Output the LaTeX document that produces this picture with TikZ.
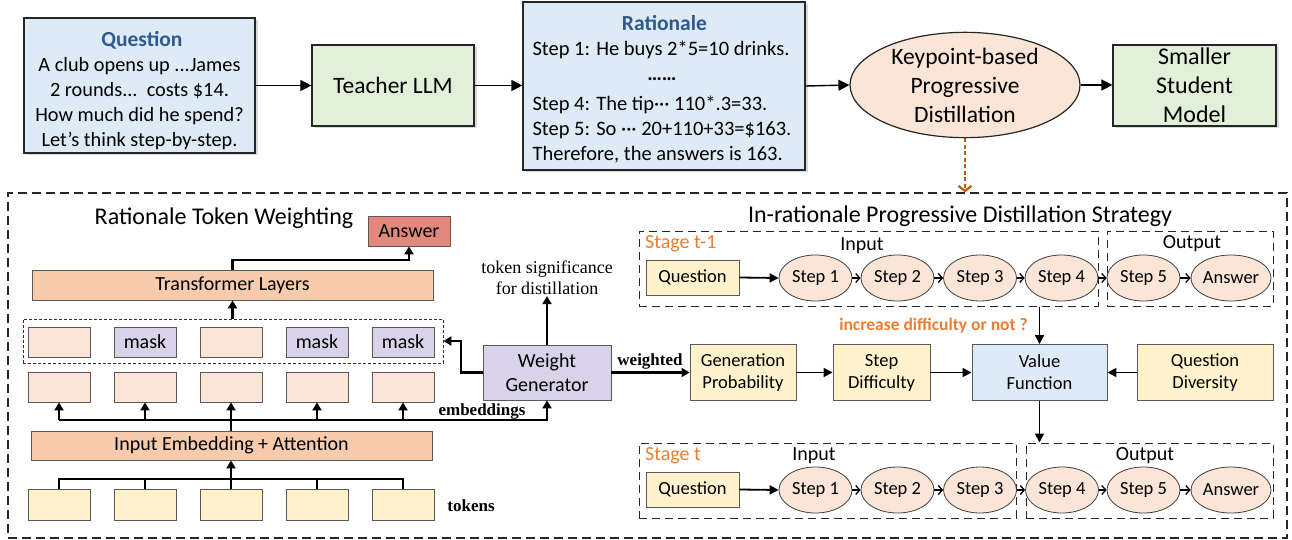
\documentclass[tikz,border=0pt]{standalone}
\usepackage{fontspec}
\setmainfont{Carlito}
\newfontfamily\tms{Liberation Serif}
\usetikzlibrary{arrows.meta,shapes.geometric,shadows,calc}
\definecolor{lblue}{HTML}{DEEBF7}
\definecolor{lgreen}{HTML}{E2F0D9}
\definecolor{peach}{HTML}{FBE5D6}
\definecolor{lorange}{HTML}{F8CBAD}
\definecolor{lyellow}{HTML}{FFF2CC}
\definecolor{lav}{HTML}{D9D3E9}
\definecolor{ansred}{HTML}{E0897C}
\definecolor{titleblue}{HTML}{2E5A8C}
\definecolor{orangetxt}{HTML}{ED7D31}
\definecolor{darkorange}{HTML}{C55A11}
\newcommand\myfs[2]{\fontsize{#1}{#2}\selectfont}
\begin{document}
\begin{tikzpicture}[x=1pt,y=-1pt,
  topbox/.style={draw=black!85, line width=1.2pt, inner sep=0pt, align=center,
    drop shadow={shadow xshift=2.5pt,shadow yshift=-2.5pt,opacity=0.3}},
  lbox/.style={draw=black!65, line width=0.8pt, inner sep=0pt, minimum height=30pt, font=\myfs{20}{24}},
  rbox/.style={draw=black!65, line width=0.9pt, inner sep=0pt, align=center, minimum height=56pt, font=\myfs{18.5}{22}},
  qbox/.style={draw=black!65, line width=0.8pt, inner sep=0pt, fill=lyellow, minimum width=93pt, minimum height=35pt, font=\myfs{18.5}{22}},
  stp/.style={ellipse, draw=black!75, line width=0.8pt, fill=peach, minimum width=73pt, minimum height=46pt, inner sep=0pt, font=\myfs{18.5}{22}},
  tarr/.style={line width=1.4pt, -{Triangle[length=11pt,width=11pt]}},
  larr/.style={line width=2.2pt, -{Triangle[length=8pt,width=9pt]}},
  rarr/.style={line width=1.8pt, -{Triangle[length=9pt,width=9pt]}},
  sarr/.style={line width=1.3pt, -{Straight Barb[length=4pt,width=9pt]}},
  ln/.style={line width=2.2pt},
  bigdash/.style={draw=black!85, line width=1.2pt, dash pattern=on 9pt off 5pt, inner sep=0pt},
  stagedash/.style={draw=black!85, line width=1pt, dash pattern=on 8pt off 5pt, inner sep=0pt},
  smalldash/.style={draw=black!80, line width=0.8pt, dash pattern=on 3pt off 2pt, inner sep=0pt},
  lbl/.style={font=\myfs{20}{24}, inner sep=0pt},
  serifl/.style={font=\tms\bfseries\myfs{17}{20}, inner sep=0pt}
]
\fill[white] (0,0) rectangle (1292,540);
\useasboundingbox (0,0) rectangle (1292,540);

% ---------- top row ----------
\node[topbox, fill=lblue, minimum width=231pt, minimum height=135pt] (q) at (139.5,85.5) {};
\node[align=center, inner sep=0pt, font=\myfs{20.3}{24.8}] (qt) at ($(q.center)+(0,5)$)
  {{\color{titleblue}\bfseries\myfs{21.5}{24.8} Question}\\A club opens up ...James\\2 rounds...\ \ costs \$14.\\How much did he spend?\\Let’s think step-by-step.};
\node[topbox, fill=lgreen, minimum width=162pt, minimum height=81pt, font=\myfs{23.5}{28}] (teacher) at (393,85.5) {Teacher LLM};
\node[topbox, fill=lblue, minimum width=282pt, minimum height=168pt] (rat) at (664,86) {};
\node[inner sep=0pt, font=\myfs{20.5}{25}] (ratt) at ($(rat.center)+(-2,5)$)
  {\begin{tabular}{@{}l@{}}
   \multicolumn{1}{@{}c@{}}{\color{titleblue}\bfseries\myfs{21.5}{25} Rationale}\\
   Step 1: He buys 2*5=10 drinks.\\
   \multicolumn{1}{@{}c@{}}{\bfseries ……}\\[5pt]
   Step 4: The tip··· 110*.3=33.\\
   Step 5: So ··· 20+110+33=\$163.\\
   Therefore, the answers is 163.
   \end{tabular}};
\node[ellipse, draw=black!85, line width=1.2pt, fill=peach, minimum width=230pt, minimum height=104pt, inner sep=0pt, align=center, font=\myfs{23.5}{29}] (ell) at (965,85)
  {Keypoint-based\\Progressive\\Distillation};
\node[topbox, fill=lgreen, minimum width=163pt, minimum height=81pt, font=\myfs{24}{29}] (student) at (1194.5,85.5) {Smaller\\Student\\Model};

\draw[tarr] (q.east) -- (teacher.west);
\draw[tarr] (teacher.east) -- (teacher.east -| rat.west);
\draw[tarr] (rat.east) -- (ell.west);
\draw[tarr] (ell.east) -- (ell.east -| student.west);

% ---------- big frame ----------
\node[bigdash, minimum width=1279pt, minimum height=345pt] (frame) at (647.5,365.5) {};
\draw[darkorange, line width=2.3pt, dash pattern=on 4pt off 2.5pt, -{Straight Barb[length=5pt,width=13pt]}] (ell.south) -- (ell.south |- frame.north);

% ---------- left part ----------
\node[font=\myfs{24}{28}, inner sep=0pt] (ltitle) at (224,218) {Rationale Token Weighting};
\node[lbox, fill=ansred, minimum width=82pt] (ans) at (409,231) {Answer};
\node[lbox, fill=lorange, minimum width=401pt] (trans) at (232.5,285) {Transformer Layers};
\node[smalldash, minimum width=420pt, minimum height=44pt] (mb) at (233,341) {};
\foreach \x/\n/\cl/\tx in {59/1/peach/, 145/2/lav/mask, 231/3/peach/, 317/4/lav/mask, 403/5/lav/mask}
  \node[lbox, fill=\cl, minimum width=62pt] (m\n) at (\x,342) {\tx};
\foreach \x/\n in {59/1, 145/2, 231/3, 317/4, 403/5}{
  \node[lbox, fill=peach, minimum width=62pt] (e\n) at (\x,387) {};
  \node[lbox, fill=lyellow, minimum width=62pt, minimum height=31pt] (t\n) at (\x,504.5) {};
}
\node[lbox, fill=lorange, minimum width=401pt, minimum height=29pt] (inp) at (231.5,445.5) {Input Embedding + Attention};
\node[lbox, fill=lav, minimum width=128pt, minimum height=55pt, align=center] (wg) at (547,372.5) {Weight\\Generator};
\node[font=\tms\myfs{18}{21}, align=center, inner sep=1pt] (sig) at (547,278) {token significance\\for distillation};
\node[serifl] (embl) at (482,411) {embeddings};
\node[serifl] (tokl) at (471,506) {tokens};
\node[serifl] (wl) at (650,361) {weighted};

\draw[larr] (trans.north) -- (trans.north |- 0,260) -| (ans.south);
\draw[larr] (trans.south |- mb.north) -- (trans.south);
\draw[larr] (e1.south |- 0,420) -| (wg.south);
\foreach \n in {1,2,4,5} \draw[larr] (e\n.south |- 0,420) -- (e\n.south);
\draw[larr] (e3.south |- inp.north) -- (e3.south);
\draw[ln] (t1.north) -- (t1.north |- 0,479) -- (t5.north |- 0,479) -- (t5.north);
\foreach \n in {2,4} \draw[ln] (t\n.north) -- (t\n.north |- 0,479);
\draw[larr] (t3.north) -- (t3.north |- inp.south);
\draw[larr] (wg.west) -- (461,372.5) |- (mb.east);
\draw[larr] (wg.north) -- (sig.south);

% ---------- middle row ----------
\node[rbox, fill=lyellow, minimum width=106pt] (gp) at (743,372.5) {Generation\\Probability};
\node[rbox, fill=lyellow, minimum width=97pt] (sd) at (881.5,372.5) {Step\\Difficulty};
\node[rbox, fill=lblue, minimum width=135pt] (vf) at (1039.5,372.5) {Value\\Function};
\node[rbox, fill=lyellow, minimum width=136pt] (qd) at (1205,372.5) {Question\\Diversity};
\draw[larr] (wg.east) -- (gp.west);
\draw[rarr] (gp.east) -- (sd.west);
\draw[rarr] (sd.east) -- (vf.west);
\draw[rarr] (qd.west) -- (vf.east);

% ---------- right part ----------
\node[font=\myfs{24}{28}, inner sep=0pt] (rtitle) at (960,216) {In-rationale Progressive Distillation Strategy};
\node[stagedash, minimum width=459pt, minimum height=75pt] (in1) at (868.5,268.5) {};
\node[stagedash, minimum width=166pt, minimum height=75pt] (out1) at (1190,268.5) {};
\node[stagedash, minimum width=377pt, minimum height=75pt] (in2) at (827.5,480.5) {};
\node[stagedash, minimum width=247pt, minimum height=75pt] (out2) at (1149.5,480.5) {};

\node[lbl, anchor=west, text=orangetxt] (st1) at (645,244) {Stage t-1};
\node[lbl] (inl1) at (862,246) {Input};
\node[lbl] (outl1) at (1192,244) {Output};
\node[qbox] (q1) at (692.5,277.5) {Question};
\foreach \x/\n/\tx in {815.5/1/Step 1, 897.5/2/Step 2, 980/3/Step 3, 1061.5/4/Step 4, 1143.5/5/Step 5}
  \node[stp] (a\n) at (\x,278) {\tx};
\node[stp, minimum width=80pt] (a6) at (1231,278) {Answer};
\draw[rarr] (q1.east) -- (a1.west);
\foreach \i/\j in {1/2,2/3,3/4,4/5,5/6} \draw[sarr] (a\i.east) -- (a\j.west);

\node[lbl, anchor=west, text=orangetxt] (st2) at (645,456) {Stage t};
\node[lbl] (inl2) at (814,456) {Input};
\node[lbl] (outl2) at (1145,456) {Output};
\node[qbox] (q2) at (692.5,489.5) {Question};
\foreach \x/\n/\tx in {815.5/1/Step 1, 897.5/2/Step 2, 980/3/Step 3, 1062/4/Step 4, 1143.5/5/Step 5}
  \node[stp] (b\n) at (\x,490) {\tx};
\node[stp, minimum width=80pt] (b6) at (1231,490) {Answer};
\draw[rarr] (q2.east) -- (b1.west);
\foreach \i/\j in {1/2,2/3,3/4,4/5,5/6} \draw[sarr] (b\i.east) -- (b\j.west);

\node[text=orangetxt, font=\bfseries\myfs{17.5}{21}, inner sep=0pt] (inc) at (933.5,326) {increase difficulty or not ?};
\draw[rarr] (vf.north |- in1.south) -- (vf.north);
\draw[rarr] (vf.south) -- (vf.south |- out2.north);
\end{tikzpicture}
\end{document}
